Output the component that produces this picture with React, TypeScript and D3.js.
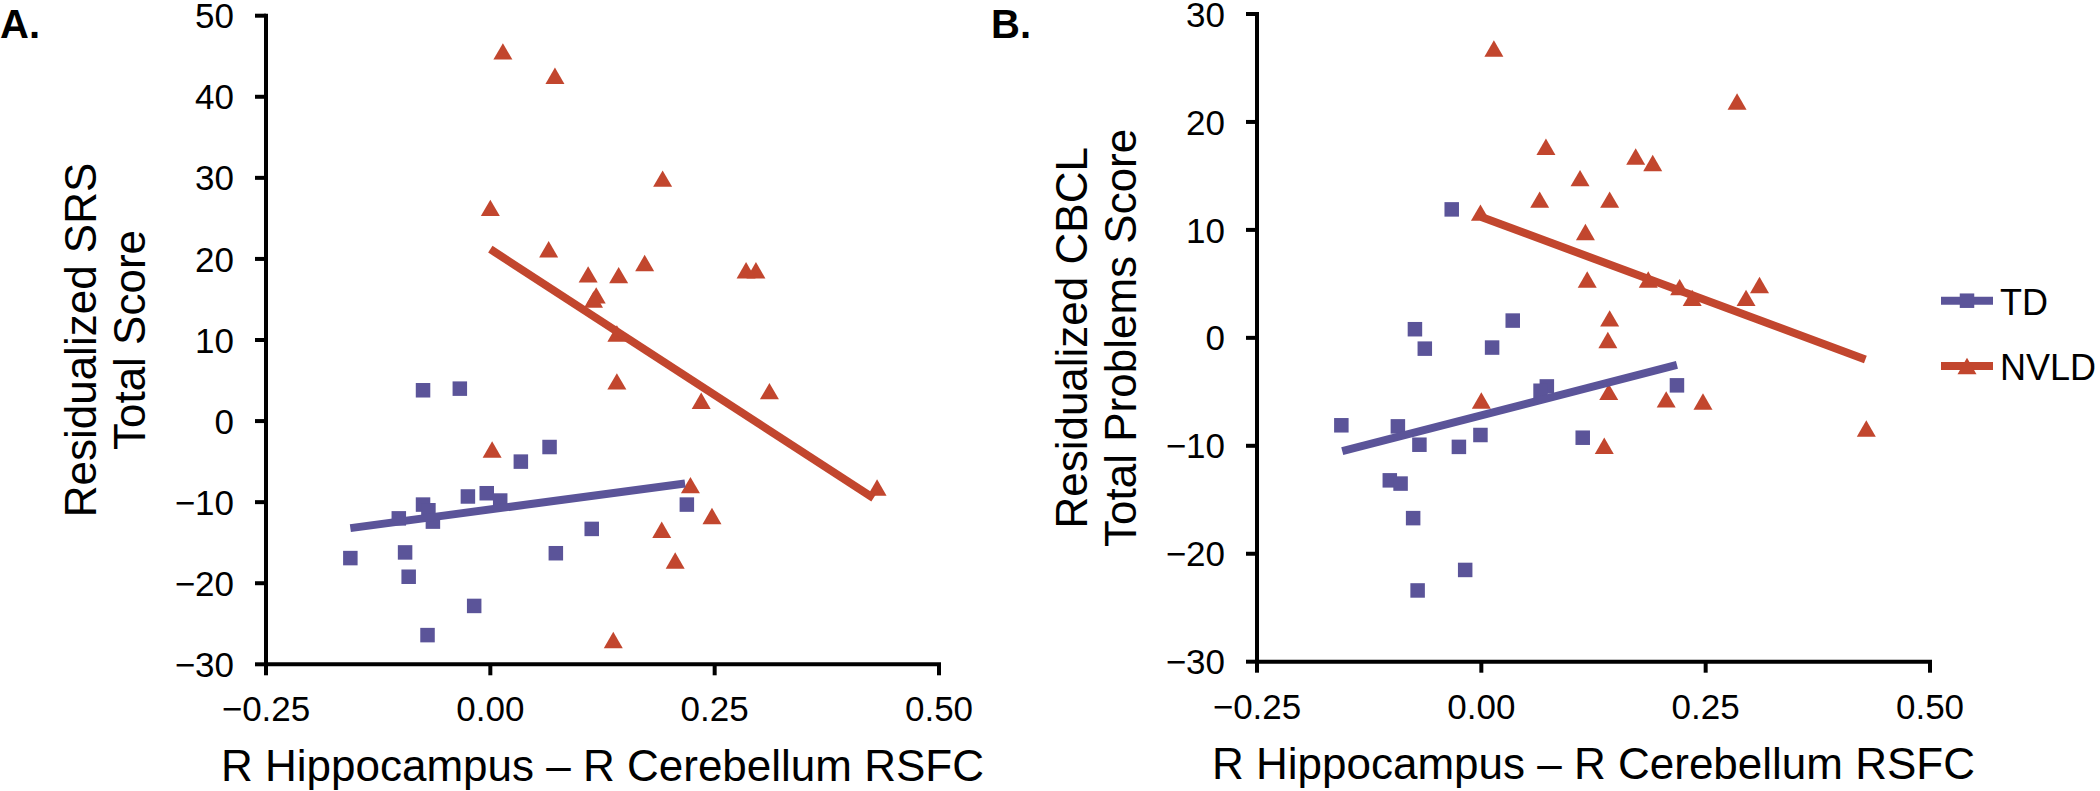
import React from 'react';
import * as d3 from 'd3';

// ---------- data ----------
const xTicks = [-0.25, 0, 0.25, 0.5];
const yTicksA = [-30, -20, -10, 0, 10, 20, 30, 40, 50];
const yTicksB = [-30, -20, -10, 0, 10, 20, 30];

const seriesNames = ['TD', 'NVLD'];

// Panel A: Residualized SRS Total Score
const tdA: [number, number][] = [
  [-0.075, 3.8], [-0.034, 4.0], [0.066, -3.2], [0.034, -5.0], [-0.025, -9.3],
  [-0.004, -8.9], [0.011, -9.8], [-0.075, -10.3], [-0.069, -11.0], [-0.102, -12.0],
  [-0.064, -12.4], [-0.156, -16.9], [-0.095, -16.2], [-0.091, -19.2], [0.113, -13.3],
  [0.073, -16.3], [-0.018, -22.8], [-0.070, -26.4], [0.219, -10.3],
];
const nvldA: [number, number][] = [
  [0.014, 45.6], [0.072, 42.6], [0.192, 29.9], [0.0, 26.3], [0.065, 21.2],
  [0.172, 19.5], [0.109, 18.1], [0.143, 18.0], [0.118, 15.5], [0.115, 15.0],
  [0.141, 10.8], [0.141, 4.9], [0.285, 18.6], [0.296, 18.6], [0.311, 3.7],
  [0.235, 2.5], [0.431, -8.2], [0.223, -7.9], [0.247, -11.7], [0.191, -13.4],
  [0.206, -17.2], [0.137, -27.0], [0.002, -3.5],
];
const trendTdA: [number, number][] = [[-0.156, -13.2], [0.217, -7.7]];
const trendNvldA: [number, number][] = [[0.0, 21.2], [0.427, -9.5]];

// Panel B: Residualized CBCL Total Problems Score
const tdB: [number, number][] = [
  [-0.033, 11.9], [0.035, 1.6], [-0.074, 0.8], [-0.063, -1.0], [0.012, -0.9],
  [0.218, -4.4], [0.073, -4.5], [0.066, -4.9], [-0.156, -8.1], [-0.093, -8.2],
  [-0.069, -9.9], [-0.025, -10.1], [-0.001, -9.0], [0.113, -9.25], [-0.102, -13.2],
  [-0.090, -13.5], [-0.076, -16.7], [-0.018, -21.5], [-0.071, -23.4],
];
const nvldB: [number, number][] = [
  [0.014, 26.8], [0.285, 21.9], [0.072, 17.7], [0.172, 16.8], [0.191, 16.2],
  [0.110, 14.8], [0.065, 12.8], [0.143, 12.8], [-0.001, 11.6], [0.116, 9.8],
  [0.118, 5.4], [0.186, 5.4], [0.221, 4.7], [0.235, 3.7], [0.295, 3.7],
  [0.310, 4.9], [0.143, 1.8], [0.141, -0.2], [0.142, -5.0], [0.0, -5.8],
  [0.206, -5.7], [0.247, -5.9], [0.137, -10.0], [0.429, -8.4],
];
const trendTdB: [number, number][] = [[-0.155, -10.5], [0.218, -2.5]];
const trendNvldB: [number, number][] = [[0.0, 11.2], [0.428, -2.0]];

// ---------- styling ----------
const FONT = "'Liberation Sans', Arial, Helvetica, sans-serif";
const BLUE = '#5B5499';
const RED = '#C2462E';
const AXIS_W = 4;

const triPath = (cx: number, cy: number) => {
  const w = 9.5, h = 8.2;
  return `M${cx},${cy - h}L${cx + w},${cy + h}L${cx - w},${cy + h}Z`;
};
const SQ = 14.5;

type PanelProps = {
  label: string;
  x0: number; x1: number; yTop: number; yBot: number;
  yDomain: [number, number];
  yTicks: number[];
  td: [number, number][];
  nvld: [number, number][];
  trendTd: [number, number][];
  trendNvld: [number, number][];
  titleLines: string[];
};

const fmtX = d3.format('.2f');
const fmtY = d3.format('d');

function Panel(p: PanelProps) {
  const x = d3.scaleLinear().domain([-0.25, 0.5]).range([p.x0, p.x1]);
  const y = d3.scaleLinear().domain(p.yDomain).range([p.yBot, p.yTop]);
  const line = d3.line<[number, number]>().x(d => x(d[0])).y(d => y(d[1]));
  const cy = (p.yTop + p.yBot) / 2;
  return (
    <g>
      <text x={p.x0 - 266} y={38} fontSize={40} fontWeight="bold" fontFamily={FONT}>{p.label}</text>
      {/* axes */}
      <line x1={p.x0} x2={p.x0} y1={p.yTop - AXIS_W / 2} y2={p.yBot + AXIS_W / 2} stroke="#000" strokeWidth={AXIS_W} />
      <line x1={p.x0} x2={p.x1 + AXIS_W / 2} y1={p.yBot} y2={p.yBot} stroke="#000" strokeWidth={AXIS_W} />
      {p.yTicks.map(t => (
        <g key={'y' + t}>
          <line x1={p.x0 - 11} x2={p.x0} y1={y(t)} y2={y(t)} stroke="#000" strokeWidth={AXIS_W} />
          <text x={p.x0 - 32} y={y(t)} dy="0.36em" textAnchor="end" fontSize={35} fontFamily={FONT}>{fmtY(t)}</text>
        </g>
      ))}
      {xTicks.map(t => (
        <g key={'x' + t}>
          <line x1={x(t)} x2={x(t)} y1={p.yBot} y2={p.yBot + 11} stroke="#000" strokeWidth={AXIS_W} />
          <text x={x(t)} y={p.yBot + 57} textAnchor="middle" fontSize={35} fontFamily={FONT}>{fmtX(t)}</text>
        </g>
      ))}
      <text x={(p.x0 + p.x1) / 2} y={p.yBot + 117} textAnchor="middle" fontSize={44} fontFamily={FONT}>
        R Hippocampus – R Cerebellum RSFC
      </text>
      {p.titleLines.map((s, i) => (
        <text key={s} transform={`translate(${p.x0 - 170 + i * 49},${cy}) rotate(-90)`} textAnchor="middle" fontSize={44} fontFamily={FONT}>{s}</text>
      ))}
      {/* markers */}
      {p.td.map((d, i) => (
        <rect key={'td' + i} x={x(d[0]) - SQ / 2} y={y(d[1]) - SQ / 2} width={SQ} height={SQ} fill={BLUE} />
      ))}
      {p.nvld.map((d, i) => (
        <path key={'nv' + i} d={triPath(x(d[0]), y(d[1]))} fill={RED} />
      ))}
      {/* trendlines */}
      <path d={line(p.trendTd) || ''} stroke={BLUE} strokeWidth={8} fill="none" />
      <path d={line(p.trendNvld) || ''} stroke={RED} strokeWidth={8} fill="none" />
    </g>
  );
}

function Legend() {
  const items = [
    { name: seriesNames[0], color: BLUE, y: 300.7, shape: 'sq' },
    { name: seriesNames[1], color: RED, y: 366, shape: 'tri' },
  ];
  return (
    <g>
      {items.map(it => (
        <g key={it.name}>
          <line x1={1941} x2={1993} y1={it.y} y2={it.y} stroke={it.color} strokeWidth={8} />
          {it.shape === 'sq'
            ? <rect x={1967 - SQ / 2} y={it.y - SQ / 2} width={SQ} height={SQ} fill={it.color} />
            : <path d={triPath(1967, it.y)} fill={it.color} />}
          <text x={2000} y={it.y + 14} fontSize={36} fontFamily={FONT}>{it.name}</text>
        </g>
      ))}
    </g>
  );
}

export default function App() {
  return (
    <svg width={2100} height={791} style={{ position: 'absolute', left: 0, top: 0, background: '#fff' }}>
      <rect width={2100} height={791} fill="#fff" />
      <Panel label="A." x0={266} x1={939} yTop={15.7} yBot={664.3} yDomain={[-30, 50]} yTicks={yTicksA}
        td={tdA} nvld={nvldA} trendTd={trendTdA} trendNvld={trendNvldA}
        titleLines={['Residualized SRS', 'Total Score']} />
      <Panel label="B." x0={1257} x1={1930} yTop={14} yBot={661.7} yDomain={[-30, 30]} yTicks={yTicksB}
        td={tdB} nvld={nvldB} trendTd={trendTdB} trendNvld={trendNvldB}
        titleLines={['Residualized CBCL', 'Total Problems Score']} />
      <Legend />
    </svg>
  );
}
